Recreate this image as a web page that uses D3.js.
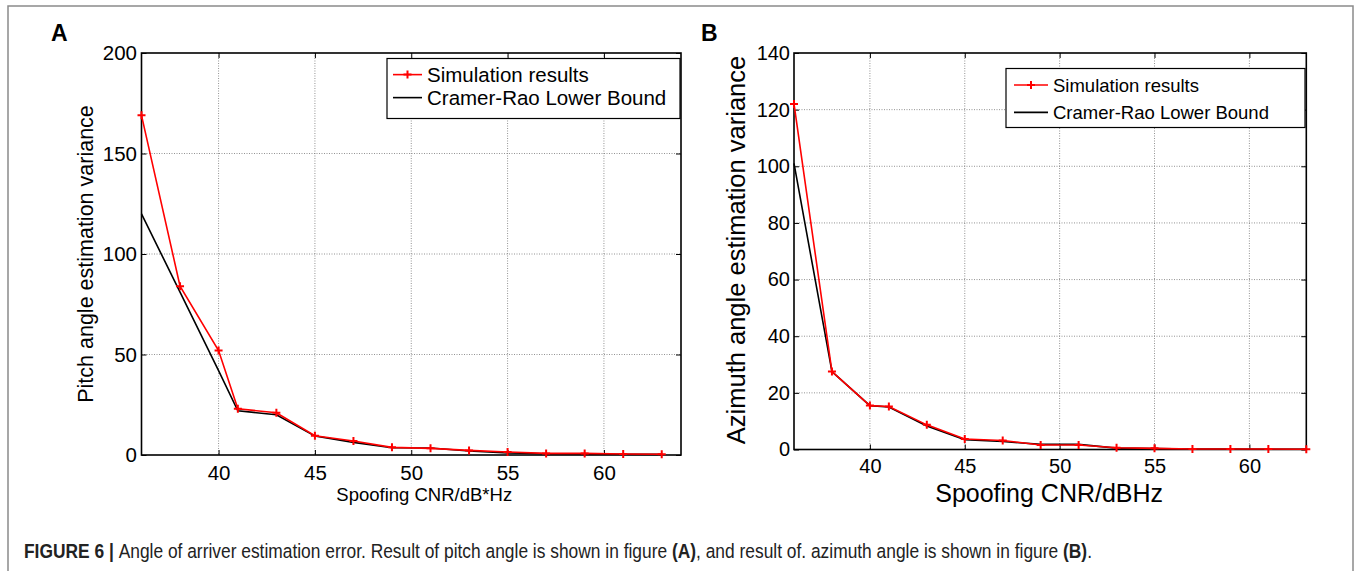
<!DOCTYPE html>
<html>
<head>
<meta charset="utf-8">
<script src="https://cdn.jsdelivr.net/npm/d3@7"></script>
<style>
  body { margin: 0; background: #fff; }
  svg { display: block; font-family: "Liberation Sans", Arial, sans-serif; }
</style>
</head>
<body>
<svg id="drawing_region"></svg>
<script>
// values
const cnr = [36, 38, 40, 41, 43, 45, 47, 49, 51, 53, 55, 57, 59, 61, 63];
const pitchSim  = [169, 84, 52, 23, 21, 9.6, 7, 3.8, 3.3, 2.3, 1.5, 0.8, 0.8, 0.5, 0.4];
const pitchCrlb = [120, 81, 42, 22, 20, 9.4, 6.3, 3.6, 3.5, 2, 1, 0.6, 0.5, 0.4, 0.3];
const azimSim   = [122, 27.5, 15.5, 15.2, 8.7, 3.7, 3.2, 1.6, 1.6, 0.6, 0.4, 0.2, 0.2, 0.2, 0.1];
const azimCrlb  = [101, 27.5, 15.5, 15, 8.3, 3.5, 2.8, 1.8, 1.8, 0.5, 0.3, 0.2, 0.2, 0.1, 0.1];
const xTicks = [40, 45, 50, 55, 60];
const pitchTicks = [0, 50, 100, 150, 200];
const azimTicks = [0, 20, 40, 60, 80, 100, 120, 140];
const legendNames = ["Simulation results", "Cramer-Rao Lower Bound"];

const svg = d3.select('#drawing_region')
    .attr('width', 1356)
    .attr('height', 571);

// outer frame of the figure
svg.append('rect')
    .attr('x', 8).attr('y', 6)
    .attr('width', 1345).attr('height', 600)
    .attr('fill', 'none')
    .attr('stroke', '#8a8a8a')
    .attr('stroke-width', 1.5);

function drawPanel(cfg) {
    const x = d3.scaleLinear().domain(cfg.xDomain).range([cfg.left, cfg.right]);
    const y = d3.scaleLinear().domain(cfg.yDomain).range([cfg.bottom, cfg.top]);
    const g = svg.append('g');

    // dotted grid
    g.selectAll('.vgrid')
        .data(cfg.xTicks)
        .join('line')
        .attr('x1', d => x(d)).attr('x2', d => x(d))
        .attr('y1', cfg.top).attr('y2', cfg.bottom)
        .attr('stroke', '#777').attr('stroke-width', 0.8)
        .attr('stroke-dasharray', '1,1.5');
    g.selectAll('.hgrid')
        .data(cfg.yTicks.filter(d => d > cfg.yDomain[0] && d < cfg.yDomain[1]))
        .join('line')
        .attr('x1', cfg.left).attr('x2', cfg.right)
        .attr('y1', d => y(d)).attr('y2', d => y(d))
        .attr('stroke', '#777').attr('stroke-width', 0.8)
        .attr('stroke-dasharray', '1,1.5');

    // axes with inward ticks, mirrored on top and right
    const fmt = d3.format('d');
    const ax = [
        [d3.axisBottom(x).tickValues(cfg.xTicks).tickFormat(fmt).tickPadding(cfg.xPad), `translate(0,${cfg.bottom})`],
        [d3.axisLeft(y).tickValues(cfg.yTicks).tickFormat(fmt).tickPadding(cfg.yPad), `translate(${cfg.left},0)`],
        [d3.axisTop(x).tickValues(cfg.xTicks).tickFormat(''), `translate(0,${cfg.top})`],
        [d3.axisRight(y).tickValues(cfg.yTicks).tickFormat(''), `translate(${cfg.right},0)`]
    ];
    ax.forEach(([a, t]) => {
        const ag = g.append('g').attr('transform', t)
            .call(a.tickSizeInner(-5).tickSizeOuter(0));
        ag.select('.domain').remove();
        ag.selectAll('line').attr('stroke', '#000').attr('stroke-width', 1);
        ag.selectAll('text')
            .attr('fill', '#000')
            .attr('font-family', '"Liberation Sans", Arial, sans-serif')
            .attr('font-size', cfg.tickFont + 'px');
    });

    g.append('rect')
        .attr('x', cfg.left).attr('y', cfg.top)
        .attr('width', cfg.right - cfg.left).attr('height', cfg.bottom - cfg.top)
        .attr('fill', 'none').attr('stroke', '#000').attr('stroke-width', 1.6);

    const line = d3.line().x((d, i) => x(cnr[i])).y(d => y(d));

    g.append('path').datum(cfg.crlb)
        .attr('d', line)
        .attr('fill', 'none').attr('stroke', '#000').attr('stroke-width', 1.6);
    g.append('path').datum(cfg.sim)
        .attr('d', line)
        .attr('fill', 'none').attr('stroke', '#ff0000').attr('stroke-width', 1.6);

    const plus = 'M-4,0H4M0,-4V4';
    g.selectAll('.mk')
        .data(cfg.sim)
        .join('path')
        .attr('transform', (d, i) => `translate(${x(cnr[i])},${y(d)})`)
        .attr('d', plus)
        .attr('stroke', '#ff0000').attr('stroke-width', 2);

    // legend
    const lg = cfg.legend;
    g.append('rect')
        .attr('x', lg.x0).attr('y', lg.y0)
        .attr('width', lg.x1 - lg.x0).attr('height', lg.y1 - lg.y0)
        .attr('fill', '#fff').attr('stroke', '#000').attr('stroke-width', 1.2);
    legendNames.forEach((name, i) => {
        const yy = lg.rows[i];
        const col = i === 0 ? '#ff0000' : '#000';
        g.append('line')
            .attr('x1', lg.lx0).attr('x2', lg.lx1)
            .attr('y1', yy - lg.font * 0.36).attr('y2', yy - lg.font * 0.36)
            .attr('stroke', col).attr('stroke-width', 1.6);
        if (i === 0) {
            g.append('path')
                .attr('transform', `translate(${(lg.lx0 + lg.lx1) / 2},${yy - lg.font * 0.36})`)
                .attr('d', plus)
                .attr('stroke', '#ff0000').attr('stroke-width', 2);
        }
        g.append('text')
            .attr('x', lg.tx).attr('y', yy)
            .attr('font-size', lg.font + 'px')
            .attr('fill', '#000')
            .text(name);
    });

    // axis titles and panel letter
    g.append('text')
        .attr('x', (cfg.left + cfg.right) / 2 + cfg.xLabelShift)
        .attr('y', cfg.xLabelY)
        .attr('text-anchor', 'middle')
        .attr('font-size', cfg.xLabelFont + 'px')
        .text(cfg.xLabel);
    g.append('text')
        .attr('transform', `translate(${cfg.yLabelX},${cfg.yLabelCy}) rotate(-90)`)
        .attr('text-anchor', 'middle')
        .attr('font-size', cfg.yLabelFont + 'px')
        .text(cfg.yLabel);
    g.append('text')
        .attr('x', cfg.letterX).attr('y', 40.5)
        .attr('font-size', '23px')
        .attr('font-weight', 'bold')
        .text(cfg.letter);
}

drawPanel({
    left: 141.5, right: 681, top: 53, bottom: 455,
    xDomain: [36, 64], yDomain: [0, 200],
    xTicks: xTicks, yTicks: pitchTicks,
    sim: pitchSim, crlb: pitchCrlb,
    xPad: 10, yPad: 4.5, tickFont: 20.5,
    xLabel: 'Spoofing CNR/dB*Hz', xLabelY: 501, xLabelFont: 18.5, xLabelShift: 13,
    yLabel: 'Pitch angle estimation variance', yLabelX: 93, yLabelCy: 254, yLabelFont: 21.5,
    letter: 'A', letterX: 51,
    legend: { x0: 387, x1: 680, y0: 58.5, y1: 118.5, lx0: 393, lx1: 422, tx: 427, rows: [82, 105], font: 20.5 }
});

drawPanel({
    left: 794, right: 1306.3, top: 53, bottom: 449.5,
    xDomain: [36, 63], yDomain: [0, 140],
    xTicks: xTicks, yTicks: azimTicks,
    sim: azimSim, crlb: azimCrlb,
    xPad: 9.5, yPad: 4, tickFont: 20,
    xLabel: 'Spoofing CNR/dBHz', xLabelY: 502, xLabelFont: 25, xLabelShift: -1,
    yLabel: 'Azimuth angle estimation variance', yLabelX: 745, yLabelCy: 250, yLabelFont: 25.5,
    letter: 'B', letterX: 701,
    legend: { x0: 1006, x1: 1305, y0: 68.5, y1: 127.5, lx0: 1014, lx1: 1048, tx: 1053, rows: [91.7, 119], font: 18.5 }
});

// caption, squeezed horizontally like a condensed face
const cap = svg.append('text')
    .attr('font-size', '20.5px')
    .attr('fill', '#222');
const parts = [
    ['FIGURE 6 | ', 'bold'],
    ['Angle of arriver estimation error. Result of pitch angle is shown in figure ', 'normal'],
    ['(A)', 'bold'],
    [', and result of. azimuth angle is shown in figure ', 'normal'],
    ['(B)', 'bold'],
    ['.', 'normal']
];
parts.forEach(([t, w]) => cap.append('tspan').attr('font-weight', w).text(t));
const capW = cap.node().getComputedTextLength();
cap.attr('transform', `translate(24,558.3) scale(${(1092 - 24) / capW},1)`);
</script>
</body>
</html>
